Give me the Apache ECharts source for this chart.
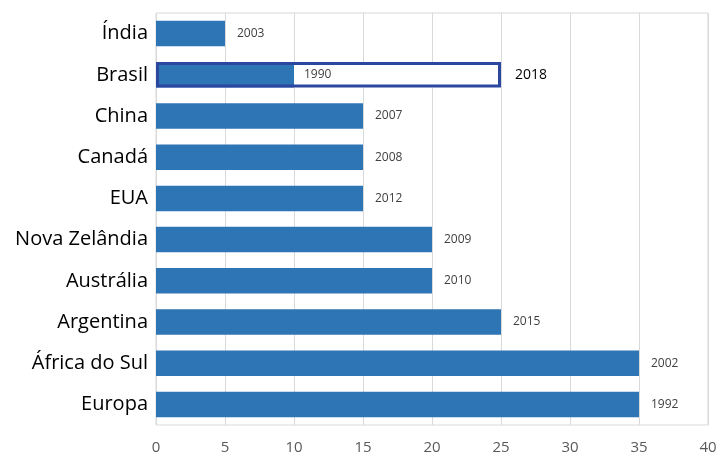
<!DOCTYPE html>
<html><head><meta charset="utf-8">
<script src="https://cdn.jsdelivr.net/npm/echarts@6/dist/echarts.min.js"></script>
<style>html,body{margin:0;padding:0;background:#fff}#c{width:720px;height:457px}</style>
</head><body><div id="c"></div>
<script>
const categories = ['Índia','Brasil','China','Canadá','EUA','Nova Zelândia','Austrália','Argentina','África do Sul','Europa'];
const values = [5, 25, 15, 15, 15, 20, 20, 25, 35, 35];
const years = ['2003','2018','2007','2008','2012','2009','2010','2015','2002','1992'];
const highlightIndex = 1;
const innerValue = 10;
const innerYear = '1990';
const xTicks = [0, 5, 10, 15, 20, 25, 30, 35, 40];

const BLUE = '#2E75B6', DARK = '#2B47A0';
const mainData = values.map((v, i) => i === highlightIndex
  ? {value: v, itemStyle: {color: '#fff'}, label: {show: false}}
  : v);
const innerData = values.map((v, i) => i === highlightIndex ? innerValue : '-');
const outlineData = values.map((v, i) => i === highlightIndex ? v : '-');

const chart = echarts.init(document.getElementById('c'));
chart.setOption({
  animation: false,
  grid: {left: 156, right: 12, top: 13, bottom: 32, show: true, borderColor: '#d9d9d9', borderWidth: 1},
  xAxis: {
    type: 'value', min: xTicks[0], max: xTicks[xTicks.length - 1], interval: 5,
    axisLine: {show: false}, axisTick: {show: false},
    splitLine: {lineStyle: {color: '#d9d9d9', width: 1}},
    axisLabel: {color: '#595959', fontSize: 15, margin: 15, fontFamily: 'Open Sans'}
  },
  yAxis: {
    type: 'category', data: categories, inverse: true,
    axisLine: {show: false}, axisTick: {show: false},
    axisLabel: {color: '#000', fontSize: 20, margin: 8, fontFamily: 'Open Sans'}
  },
  series: [
    {type: 'bar', data: mainData, barWidth: '62%', barGap: '-100%',
     itemStyle: {color: BLUE},
     label: {show: true, position: 'right', distance: 12, color: '#404040', fontSize: 12, fontFamily: 'Open Sans',
       formatter: p => years[p.dataIndex]}},
    {type: 'bar', data: innerData, barWidth: '62%', barGap: '-100%',
     itemStyle: {color: BLUE},
     label: {show: true, position: 'right', distance: 10, color: '#404040', fontSize: 12, fontFamily: 'Open Sans',
       formatter: () => innerYear}},
    {type: 'bar', data: outlineData, barWidth: '62%', barGap: '-100%',
     itemStyle: {color: 'rgba(0,0,0,0)', borderColor: DARK, borderWidth: 3},
     label: {show: true, position: 'right', distance: 14, color: '#000', fontSize: 14, fontFamily: 'Open Sans',
       formatter: p => years[p.dataIndex]}}
  ]
});
</script></body></html>
